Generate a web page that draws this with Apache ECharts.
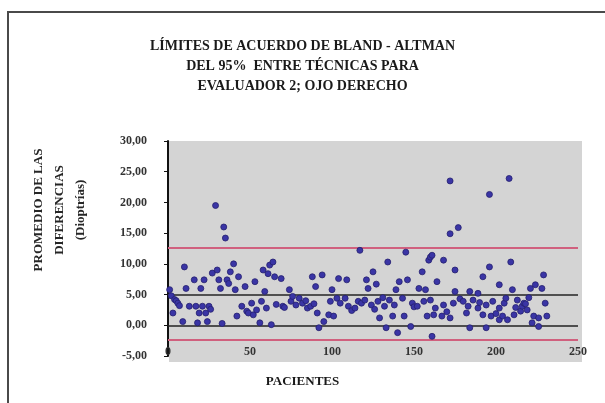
<!DOCTYPE html>
<html>
<head>
<meta charset="utf-8">
<script src="https://cdn.jsdelivr.net/npm/echarts@6/dist/echarts.min.js"></script>
<style>
html,body{margin:0;padding:0;background:#fff;}
#c{width:605px;height:403px;}
</style>
</head>
<body>
<div id="c"></div>
<script>
const titleLines = ["LÍMITES DE ACUERDO DE BLAND - ALTMAN", "DEL 95%  ENTRE TÉCNICAS PARA", "EVALUADOR 2; OJO DERECHO"];
const yAxisTitle = ["PROMEDIO DE LAS", "DIFERENCIAS", "(Dioptrías)"];
const xAxisTitle = "PACIENTES";
const yTicks = [-5, 0, 5, 10, 15, 20, 25, 30];
const xTicks = [0, 50, 100, 150, 200, 250];
const meanDiff = 5.0;
const upperLimit = 12.6;
const lowerLimit = -2.4;
const zeroLine = 0;

const patients = [
  1,2,3,4,5,6,7,9,10,11,13,16,17,18,19,20,21,22,23,24,25,26,27,29,30,31,32,33,34,35,
  36,37,38,40,41,42,43,45,47,48,49,51,52,53,54,56,57,58,59,60,61,62,63,64,65,66,69,70,71,74,
  75,76,78,80,82,84,85,87,88,89,90,91,92,94,95,98,99,100,101,103,104,105,108,109,110,112,114,116,117,118,
  120,121,122,124,125,126,127,128,129,131,132,133,134,135,137,138,139,140,141,143,144,145,146,148,149,150,152,153,155,156,
  157,158,159,160,160,161,161,162,163,164,167,168,168,170,172,172,172,174,175,175,177,178,180,182,183,184,184,186,189,189,
  190,192,192,194,194,196,196,197,198,200,202,202,202,204,205,206,207,208,209,210,211,212,213,215,216,217,218,219,220,221,
  222,223,224,226,226,228,229,230,231
];
const differences = [
  5.8,4.8,2.0,4.2,4.0,3.6,3.2,0.6,9.5,6.0,3.1,7.4,3.1,0.4,2.0,6.0,3.1,7.4,2.0,0.6,3.1,2.6,8.5,19.5,9.0,7.4,6.0,0.3,16.0,14.2,
  7.4,6.8,8.7,10.0,5.8,1.5,7.9,3.1,6.3,2.3,2.0,3.6,1.7,7.1,2.5,0.4,3.9,9.0,5.5,2.8,8.4,9.8,0.1,10.3,7.9,3.4,7.6,3.1,2.9,5.8,
  3.9,4.7,3.3,4.4,3.6,4.0,2.8,3.1,7.9,3.5,6.3,2.0,-0.4,8.2,0.6,1.7,3.9,5.8,1.5,4.4,7.6,3.6,4.4,7.4,3.1,2.4,2.8,3.9,12.2,3.6,
  4.1,7.4,6.0,3.3,8.7,2.6,6.7,3.9,1.2,4.5,3.1,-0.4,10.3,4.1,1.5,3.3,5.8,-1.2,7.1,4.4,1.5,11.9,7.4,-0.2,3.6,3.0,3.1,6.0,8.7,3.9,
  5.8,1.5,10.6,11.1,4.1,11.4,-1.8,1.7,2.8,7.1,1.5,10.6,3.3,2.2,23.5,14.9,1.2,3.6,9.0,5.5,15.9,4.3,3.9,2.0,3.1,5.5,-0.4,4.1,5.2,2.8,
  3.7,7.9,1.7,3.3,-0.4,21.3,9.5,1.5,3.9,1.9,6.6,2.8,0.9,1.5,3.6,4.4,0.9,23.9,10.3,5.8,1.7,2.9,4.1,2.3,3.1,3.6,3.5,2.5,4.5,6.0,
  0.4,1.5,6.6,1.2,-0.2,6.0,8.2,3.6,1.5
];

const points = patients.map((p, i) => [p, differences[i]]);
const fmt = v => (v < 0 ? "-" : "") + Math.abs(v).toFixed(2).replace(".", ",");

const chart = echarts.init(document.getElementById('c'));
chart.setOption({
  animation: false,
  backgroundColor: '#ffffff',
  graphic: [
    { type: 'rect', shape: { x: 8, y: 12, width: 640, height: 420 }, style: { fill: 'none', stroke: '#4a4a4a', lineWidth: 2 }, z: -10 },
    { type: 'rect', shape: { x: 169, y: 141, width: 413, height: 221 }, style: { fill: '#d4d4d4' }, z: -5 },
    { type: 'text', left: 'center', top: 36, style: { text: titleLines.join('\n'), font: 'bold 14px "Liberation Serif"', fill: '#1a1a1a', textAlign: 'center', lineHeight: 20 } },
    { type: 'text', x: 28, y: 210, rotation: Math.PI / 2, style: { text: yAxisTitle.join('\n'), font: 'bold 13px "Liberation Serif"', fill: '#262626', textAlign: 'center', textVerticalAlign: 'top', lineHeight: 21 } },
    { type: 'text', left: 'center', top: 375, style: { text: xAxisTitle, font: 'bold 13px "Liberation Serif"', fill: '#1a1a1a' } }
  ],
  grid: { left: 168, right: 27, top: 141, bottom: 47, containLabel: false },
  xAxis: {
    type: 'value', min: 0, max: 250, interval: 50,
    axisLine: { show: false },
    axisTick: { show: false },
    splitLine: { show: false },
    axisLabel: { margin: -10, color: '#333', fontFamily: 'Liberation Serif', fontWeight: 'bold', fontSize: 12 }
  },
  yAxis: {
    type: 'value', min: -5, max: 30, interval: 5,
    axisLine: { show: true, onZero: false, lineStyle: { color: '#111', width: 2 } },
    axisTick: { show: true, length: 4, lineStyle: { color: '#111' } },
    splitLine: { show: false },
    axisLabel: { margin: 21, color: '#333', fontFamily: 'Liberation Serif', fontWeight: 'bold', fontSize: 12, formatter: fmt }
  },
  series: [
    {
      type: 'scatter',
      data: points,
      symbol: 'circle',
      symbolSize: 6,
      itemStyle: { color: '#3a35a5', borderColor: '#24206e', borderWidth: 0.8, opacity: 1 },
      z: 5,
      markLine: {
        silent: true,
        symbol: 'none',
        label: { show: false },
        data: [
          { yAxis: upperLimit, lineStyle: { color: '#d0607e', width: 2, type: 'solid' } },
          { yAxis: lowerLimit, lineStyle: { color: '#d0607e', width: 2, type: 'solid' } },
          { yAxis: meanDiff, lineStyle: { color: '#505050', width: 2, type: 'solid' } },
          { yAxis: zeroLine, lineStyle: { color: '#222', width: 1.5, type: 'solid' } }
        ]
      }
    }
  ]
});
</script>
</body>
</html>
